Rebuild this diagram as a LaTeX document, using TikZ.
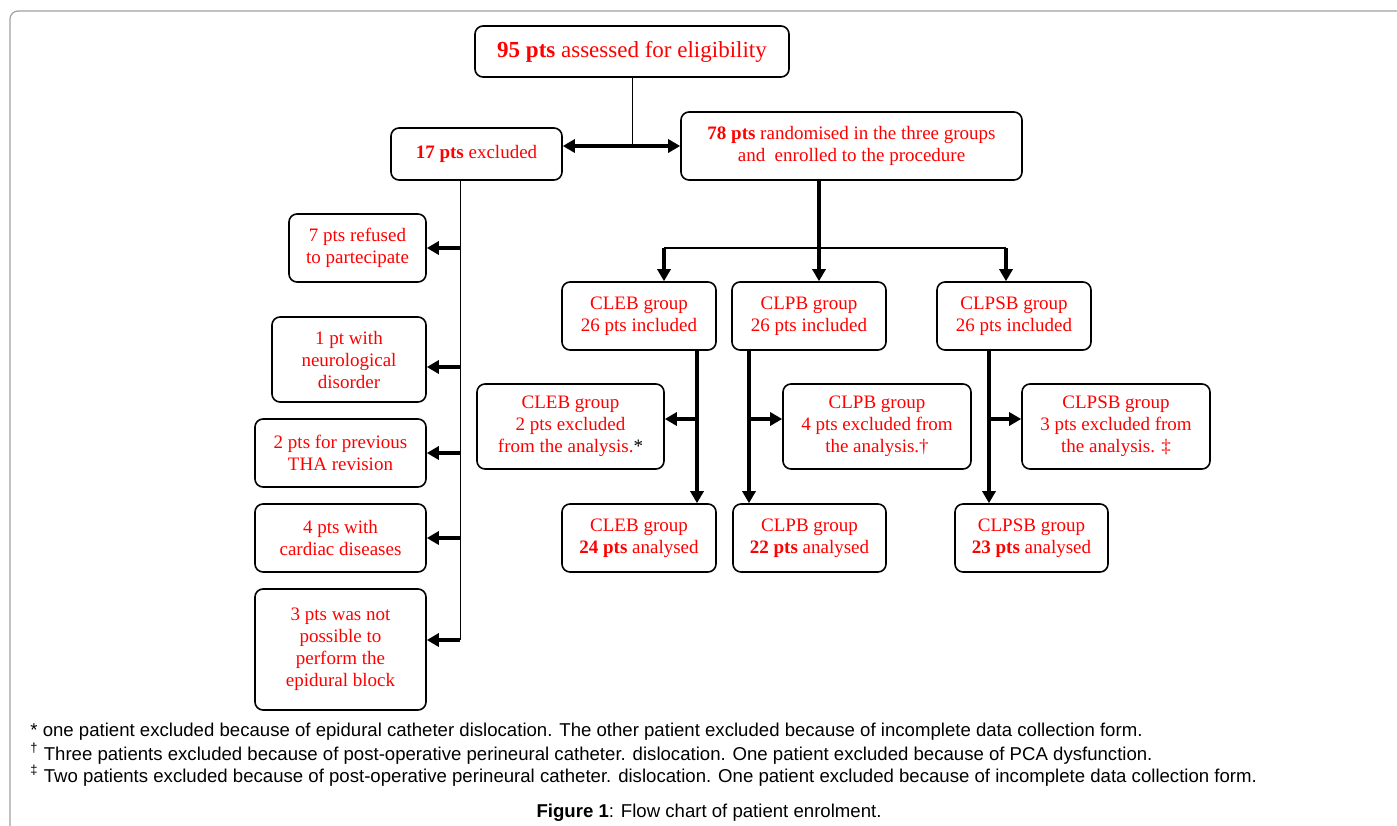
\documentclass[tikz,border=0pt]{standalone}
\usepackage{fontspec}
\setmainfont{Liberation Serif}
\newfontfamily\arialf{Liberation Sans}
\usetikzlibrary{arrows.meta}
\definecolor{boxred}{RGB}{255,0,0}
\definecolor{framegray}{RGB}{160,160,160}
\begin{document}
\begin{tikzpicture}[x=0.5pt,y=-0.5pt,
  box/.style={draw=black, line width=0.8pt, rounded corners=4pt, align=center,
    text=boxred, font=\fontsize{9.5}{11}\selectfont, inner sep=0pt},
  thinline/.style={line width=0.5pt},
  midline/.style={line width=1pt},
  arr/.style={line width=1.6pt, -{Triangle[length=6pt,width=6.5pt]}},
  darr/.style={line width=1.6pt, {Triangle[length=6pt,width=6.5pt]}-{Triangle[length=6pt,width=6.5pt]}},
  note/.style={anchor=west, inner sep=0pt, font=\arialf\fontsize{9.3}{11}\selectfont}]
\useasboundingbox (0,0) rectangle (1397,825);
\begin{scope}
  \clip (0,0) rectangle (1397,825);
  \draw[framegray, line width=0.6pt, rounded corners=4pt] (10,900) -- (10,11) -- (1500,11);
\end{scope}

% top
\node[box, minimum width=157pt, minimum height=25.5pt, font=\fontsize{11.5}{13}\selectfont] (top) at (632,51.5) {\textbf{95 pts} assessed for eligibility};
\node[box, minimum width=85.5pt, minimum height=26pt] (excl) at (476.5,154) {\textbf{17 pts} excluded};
\node[box, minimum width=170.5pt, minimum height=34pt] (rand) at (851.5,146) {\textbf{78 pts} randomised in the three groups\\and\ \ enrolled to the procedure};

% left exclusions
\node[box, minimum width=68.5pt, minimum height=34pt] (r1) at (357.5,248) {7 pts refused\\to partecipate};
\node[box, minimum width=77pt, minimum height=42.5pt] (r2) at (349,359.5) {1 pt with\\neurological\\disorder};
\node[box, minimum width=85.5pt, minimum height=34pt] (r3) at (340.5,453) {2 pts for previous\\THA revision};
\node[box, minimum width=85.5pt, minimum height=34pt] (r4) at (340.5,538) {4 pts with\\cardiac diseases};
\node[box, minimum width=85.5pt, minimum height=60.5pt] (r5) at (340.5,649.5) {3 pts was not\\possible to\\perform the\\epidural block};

% groups
\node[box, minimum width=77pt, minimum height=34pt] (g1) at (639,316) {CLEB group\\26 pts included};
\node[box, minimum width=77pt, minimum height=34pt] (g2) at (809,316) {CLPB group\\26 pts included};
\node[box, minimum width=77pt, minimum height=34pt] (g3) at (1014,316) {CLPSB group\\26 pts included};

\node[box, minimum width=93.5pt, minimum height=42.5pt] (e1) at (570.5,426.5) {CLEB group\\2 pts excluded\\from the analysis.\textcolor{black}{*}};
\node[box, minimum width=94pt, minimum height=42.5pt] (e2) at (877,426.5) {CLPB group\\4 pts excluded from\\the analysis.†};
\node[box, minimum width=94pt, minimum height=42.5pt] (e3) at (1116,426.5) {CLPSB group\\3 pts excluded from\\the analysis. ‡};

\node[box, minimum width=77pt, minimum height=34pt] (a1) at (639,538) {CLEB group\\\textbf{24 pts} analysed};
\node[box, minimum width=76.5pt, minimum height=34pt] (a2) at (809.5,538) {CLPB group\\\textbf{22 pts} analysed};
\node[box, minimum width=76.5pt, minimum height=34pt] (a3) at (1031.5,538) {CLPSB group\\\textbf{23 pts} analysed};

% connectors top
\draw[thinline] (top.south) -- (top.south |- rand.west);
\draw[darr] (excl.east |- rand.west) -- (rand.west);

% left spine
\coordinate (spine) at (460,640);
\draw[thinline] (excl.south -| spine) -- (spine);
\draw[arr] (spine |- r1.east) -- (r1.east);
\draw[arr] ([yshift=-3.75pt]r2.east -| spine) -- ([yshift=-3.75pt]r2.east);
\draw[arr] (spine |- r3.east) -- (r3.east);
\draw[arr] (spine |- r4.east) -- (r4.east);
\draw[arr] (spine) -- (spine -| r5.east);

% branch to groups
\coordinate (bm) at (819,248);
\coordinate (bl) at (664,248);
\coordinate (bre) at (1006,248);
\draw[arr] (rand.south -| bm) -- (bm |- g2.north);
\draw[midline] (bl) -- (bre);
\draw[arr] (bl) -- (bl |- g1.north);
\draw[arr] (bre) -- (bre |- g3.north);

% group verticals
\coordinate (v1) at (697,419);
\coordinate (v2) at (749,419);
\coordinate (v3) at (989,419);
\draw[arr] (g1.south -| v1) -- (a1.north -| v1);
\draw[arr] (g2.south -| v2) -- (a2.north -| v2);
\draw[arr] (g3.south -| v3) -- (a3.north -| v3);
\draw[arr] (v1) -- (v1 -| e1.east);
\draw[arr] (v2) -- (v2 -| e2.west);
\draw[arr] (v3) -- (v3 -| e3.west);

% notes
\node[note] (fn1) at (30,732) {* one patient excluded because of epidural catheter dislocation. The other patient excluded because of incomplete data collection form.};
\node[note] (fn2) at (30,754) {\textsuperscript{†} Three patients excluded because of post-operative perineural catheter. dislocation. One patient excluded because of PCA dysfunction.};
\node[note] (fn3) at (30,776) {\textsuperscript{‡} Two patients excluded because of post-operative perineural catheter. dislocation. One patient excluded because of incomplete data collection form.};
\node[inner sep=0pt, font=\arialf\fontsize{9.3}{11}\selectfont] (cap) at (709,813) {\textbf{Figure 1}: Flow chart of patient enrolment.};
\end{tikzpicture}
\end{document}
